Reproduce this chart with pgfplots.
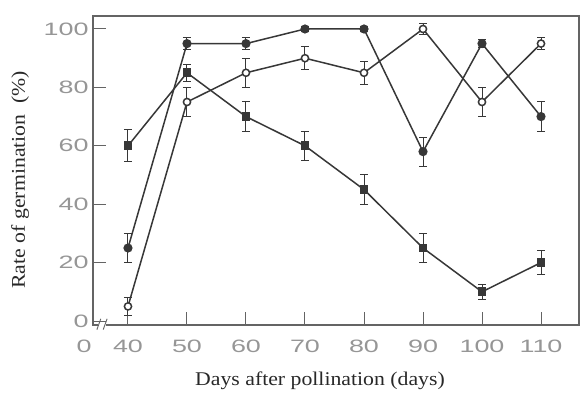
\documentclass[border=0pt]{standalone}
\usepackage{fontspec}
\usepackage{pgfplots}
\pgfplotsset{compat=1.18}
\newfontfamily\tickfont[FakeStretch=1.5]{Liberation Sans}
\newfontfamily\labelfont[FakeStretch=1.12]{Liberation Serif}
\definecolor{framegray}{RGB}{100,100,100}
\definecolor{linegray}{RGB}{55,55,55}
\definecolor{ticktext}{RGB}{150,150,150}
\definecolor{labeltext}{RGB}{40,40,40}
\begin{document}
\begin{tikzpicture}
\begin{axis}[
  at={(0,0)}, anchor=south west,
  scale only axis, width=486bp, height=309bp,
  xmin=34.07, xmax=116.44, ymin=-1.37, ymax=104.45,
  xtick={40,50,60,70,80,90,100,110},
  ytick={0,20,40,60,80,100},
  extra x ticks={34.07}, extra x tick labels={0},
  extra x tick style={major tick length=0pt, xticklabel style={xshift=-9bp}},
  tick align=inside, major tick length=13bp,
  xtick pos=bottom, ytick pos=left,
  axis line style={framegray, line width=1.3bp},
  tick style={framegray, line width=1bp},
  /pgf/number format/assume math mode=true,
  ticklabel style={font=\tickfont\fontsize{18}{18}\selectfont, text=ticktext},
  xticklabel style={anchor=center, yshift=-21bp},
  yticklabel style={anchor=east, xshift=-1bp},
  xlabel={Days after pollination (days)},
  ylabel={Rate of germination \ (\%)},
  label style={font=\labelfont\fontsize{19.5}{20}\selectfont, text=labeltext},
  xlabel style={at={(axis description cs:0.467,-0.181)}, anchor=center},
  ylabel style={at={(axis description cs:-0.150,0.47)}, anchor=center},
  clip=false,
  error bars/error bar style={linegray, line width=1bp},
  error bars/error mark options={rotate=90, mark size=4bp, linegray, line width=1bp},
]
% declining series
\addplot[linegray, line width=1.5bp, mark=square*, mark size=3.6bp, mark options={fill=linegray, draw=linegray, solid},
  error bars/.cd, y dir=both, y explicit]
  coordinates {
  (40,60) +- (0,5.5)
  (50,85) +- (0,3)
  (60,70) +- (0,5)
  (70,60) +- (0,5)
  (80,45) +- (0,5)
  (90,25) +- (0,5)
  (100,10) +- (0,2.5)
  (110,20) +- (0,4)
  };
% open series
\addplot[linegray, line width=1.5bp, mark=*, mark size=3.6bp, mark options={fill=white, draw=linegray, solid},
  error bars/.cd, y dir=both, y explicit]
  coordinates {
  (40,5) +- (0,3)
  (50,75) +- (0,5)
  (60,85) +- (0,5)
  (70,90) +- (0,4)
  (80,85) +- (0,4)
  (90,100) +- (0,2)
  (100,75) +- (0,5)
  (110,95) +- (0,2)
  };
% upper filled series
\addplot[linegray, line width=1.5bp, mark=*, mark size=3.8bp, mark options={fill=linegray, draw=linegray, solid},
  error bars/.cd, y dir=both, y explicit]
  coordinates {
  (40,25) +- (0,5)
  (50,95) +- (0,2)
  (60,95) +- (0,2)
  (70,100) +- (0,1)
  (80,100) +- (0,1)
  (90,58) +- (0,5)
  (100,95) +- (0,1.5)
  (110,70) +- (0,5)
  };
% axis break symbol
\fill[white] (rel axis cs:0.011,-0.01) rectangle (rel axis cs:0.026,0.01);
\draw[framegray, line width=0.9bp] (rel axis cs:0.008,-0.015) -- (rel axis cs:0.016,0.02);
\draw[framegray, line width=0.9bp] (rel axis cs:0.021,-0.015) -- (rel axis cs:0.029,0.02);
\end{axis}
\useasboundingbox (-93bp,-69bp) rectangle (488bp,325bp);
\end{tikzpicture}
\end{document}
